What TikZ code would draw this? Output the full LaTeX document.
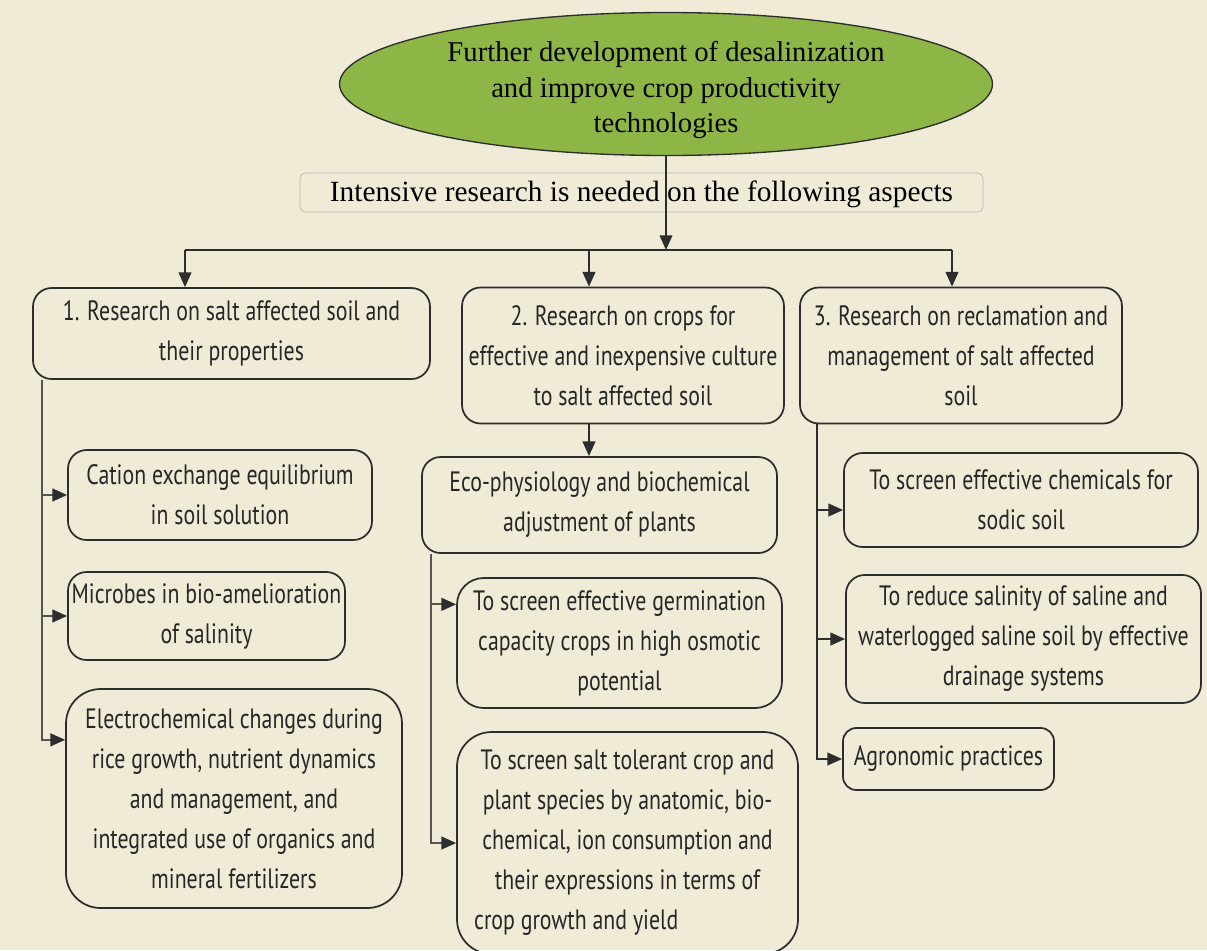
\documentclass[tikz,border=0pt]{standalone}
\usepackage{fontspec}
\setmainfont{Liberation Serif}
\newfontfamily\boxfont[FakeStretch=0.78]{PT Sans}
\usetikzlibrary{arrows.meta,shapes.geometric}
\definecolor{paper}{RGB}{239,235,214}
\definecolor{leaf}{RGB}{141,182,70}
\definecolor{edge}{RGB}{45,45,45}
\definecolor{stem}{RGB}{85,85,80}
\tikzset{every picture/.style={line width=0.75pt}}
\tikzset{
  wh/.style 2 args={minimum width={#1*0.75pt}, minimum height={#2*0.75pt}},
  box/.style={draw=edge, line width=1.3pt, rounded corners=14pt, align=center, inner sep=0pt,
    text=black!85, font=\boxfont\fontsize{21}{30}\selectfont},
  bigbox/.style={box, rounded corners=26pt},
  arr/.style={draw=edge, line width=1.3pt, -{Triangle[length=11pt,width=9.5pt]}},
  branch/.style={draw=stem, line width=1.5pt, -{Triangle[length=11pt,width=9.5pt,color=edge]}},
}

\begin{document}
\begin{tikzpicture}[x=0.75pt,y=0.75pt,yscale=-1,xscale=1]
%set diagram left start at 0, and has height of 950
\fill [paper] (0,0) rectangle (1207,950);
\useasboundingbox (0,0) rectangle (1207,950);

%Shape: Ellipse
\node [ellipse, draw=edge, fill=leaf, line width=1pt, wh={653}{143}, inner sep=0pt] (goal) at (666,84) {};
% Text Node
\node [align=center, inner sep=0pt, font=\fontsize{21.5}{26.3}\selectfont] (goaltxt) at (666,90)
  {Further development of desalinization\\and improve crop productivity\\technologies};
% Text Node
\node [draw=gray!55, rounded corners=4pt, line width=0.6pt, wh={683}{39}, inner sep=0pt,
  text height=16pt, text depth=2pt, font=\fontsize{22}{24}\selectfont] (need) at (641.5,192.5)
  {Intensive research is needed on the following aspects};

%Shape: Rounded Rect (first row)
\node [box, wh={397}{91}] (rs1) at (231.5,333.5) {1. Research on salt affected soil and\\their properties};
\node [box, wh={322}{136}] (rs2) at (623,355.5) {2. Research on crops for\\effective and inexpensive culture\\to salt affected soil};
\node [box, wh={322}{136}] (rs3) at (961,355.5) {3. Research on reclamation and\\management of salt affected\\soil};

%Shape: Rounded Rect (left column)
\node [box, wh={304}{90}] (cat) at (220,495) {Cation exchange equilibrium\\in soil solution};
\node [box, wh={277}{88}] (mic) at (206.5,616) {Microbes in bio-amelioration\\of salinity};
\node [bigbox, wh={336}{219}] (ele) at (234,798.5) {Electrochemical changes during\\rice growth, nutrient dynamics\\and management, and\\integrated use of organics and\\mineral fertilizers};

%Shape: Rounded Rect (middle column)
\node [box, wh={355}{96}] (eco) at (599.5,505) {Eco-physiology and biochemical\\adjustment of plants};
\node [box, rounded corners=20pt, wh={325}{130}] (ger) at (619.5,643) {To screen effective germination\\capacity crops in high osmotic\\potential};
\node [bigbox, wh={341}{222}] (tol) at (627.5,843) {To screen salt tolerant crop and\\plant species by anatomic, bio-\\chemical, ion consumption and\\their expressions in terms of\\\makebox[230pt][l]{crop growth and yield}};

%Shape: Rounded Rect (right column)
\node [box, wh={354}{94}] (che) at (1021,500) {To screen effective chemicals for\\sodic soil};
\node [box, wh={355}{128}] (red) at (1023.5,639) {To reduce salinity of saline and\\waterlogged saline soil by effective\\drainage systems};
\node [box, rounded corners=10pt, wh={211}{62}] (agr) at (948.5,759) {Agronomic practices};

%Connectors
\coordinate (hub) at (666,250);
\coordinate (h1) at (185,250);
\coordinate (h2) at (589,250);
\coordinate (h3) at (952,250);
\coordinate (t1) at (42,0);
\coordinate (t2) at (431,0);
\coordinate (t3) at (817,0);

\draw [arr] (goal.south) -- (hub);
\draw [draw=edge, line width=1.3pt] (h1) -- (h3);
\draw [arr] (h1) -- (h1 |- rs1.north);
\draw [arr] (h2) -- (h2 |- rs2.north);
\draw [arr] (h3) -- (h3 |- rs3.north);
\draw [arr] (h2 |- rs2.south) -- (h2 |- eco.north);

\draw [branch] (t1 |- rs1.south) |- ([yshift=-44pt]ele.west);
\draw [branch] (t1 |- cat.west) -- (cat.west);
\draw [branch] (t1 |- mic.west) -- (mic.west);

\draw [branch] (t2 |- eco.south) |- (tol.west);
\draw [branch] ([yshift=-29pt]ger.west -| t2) -- ([yshift=-29pt]ger.west);

\draw [arr] (t3 |- rs3.south) |- (agr.west);
\draw [arr] ([yshift=7.5pt]che.west -| t3) -- ([yshift=7.5pt]che.west);
\draw [arr] (t3 |- red.west) -- (red.west);

\end{tikzpicture}
\end{document}
